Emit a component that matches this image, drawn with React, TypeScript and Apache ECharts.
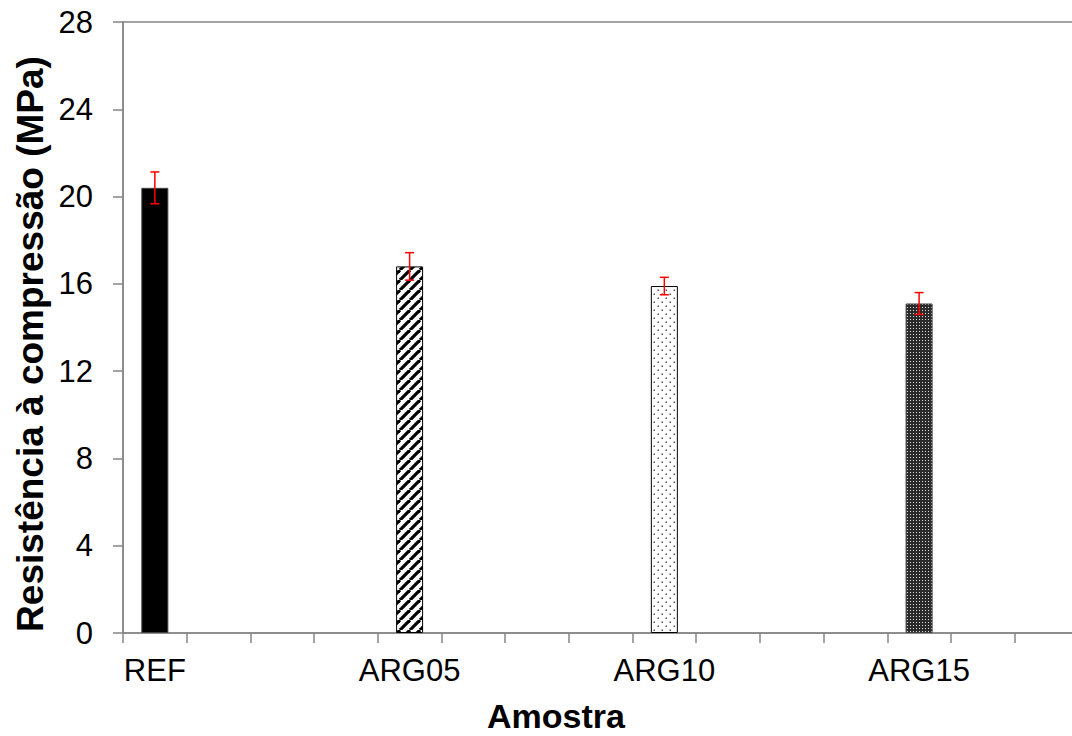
import React, { useEffect, useRef } from "react";
import * as echarts from "echarts";

const samples = ["REF", "ARG05", "ARG10", "ARG15"];
const means = [20.4, 16.8, 15.9, 15.1];
const errors = [0.73, 0.63, 0.4, 0.5];
const gapSlots = 3;
const yTicks = { min: 0, max: 28, interval: 4 };
const xTitle = "Amostra";
const yTitle = "Resistência à compressão (MPa)";

function makeTile(w: number, h: number, draw: (c: CanvasRenderingContext2D) => void) {
  const cv = document.createElement("canvas");
  cv.width = w;
  cv.height = h;
  const ctx = cv.getContext("2d")!;
  draw(ctx);
  return { image: cv, repeat: "repeat", imageWidth: w, imageHeight: h } as any;
}

export default function App() {
  const ref = useRef<HTMLDivElement>(null);
  useEffect(() => {
    if (!ref.current) return;
    const chart = echarts.init(ref.current, null, { renderer: "svg" });

    const stripes = makeTile(10, 10, (c) => {
      c.fillStyle = "#fff";
      c.fillRect(0, 0, 10, 10);
      c.strokeStyle = "#000";
      c.lineWidth = 3.2;
      for (const o of [-10, 0, 10]) {
        c.beginPath();
        c.moveTo(o, 10);
        c.lineTo(o + 10, 0);
        c.stroke();
      }
    });
    const dots = makeTile(8, 8, (c) => {
      c.fillStyle = "#fff";
      c.fillRect(0, 0, 8, 8);
      c.fillStyle = "#555";
      c.fillRect(1.5, 1.5, 1.5, 1.5);
      c.fillRect(5.5, 5.5, 1.5, 1.5);
    });
    const dense = makeTile(3, 3, (c) => {
      c.fillStyle = "#2a2a2a";
      c.fillRect(0, 0, 3, 3);
      c.fillStyle = "#e0e0e0";
      c.fillRect(1, 1, 1, 1);
    });
    const fills: any[] = ["#000", stripes, dots, dense];
    const borders = ["#404040", "#000", "#000", "#404040"];

    const categories: string[] = [];
    const barData: any[] = [];
    const errData: any[] = [];
    samples.forEach((s, i) => {
      categories.push(s);
      barData.push({
        value: means[i],
        itemStyle: { color: fills[i], borderColor: borders[i], borderWidth: 1 },
      });
      errData.push([categories.length - 1, means[i], errors[i]]);
      for (let g = 0; g < gapSlots; g++) {
        categories.push(`_${i}_${g}`);
        barData.push("-");
      }
    });

    const axisGray = "#868686";
    const font = "'Liberation Sans', Arial, sans-serif";

    chart.setOption({
      animation: false,
      grid: {
        left: 123,
        top: 22,
        height: 611,
        width: 1019,
        show: true,
        borderColor: axisGray,
        borderWidth: 1.5,
        containLabel: false,
        outerBoundsMode: "none",
      },
      xAxis: {
        type: "category",
        data: categories,
        boundaryGap: true,
        axisLine: { lineStyle: { color: axisGray, width: 1.5 } },
        axisTick: { show: true, interval: 0, length: 10, lineStyle: { color: axisGray, width: 1.5 } },
        axisLabel: {
          interval: 0,
          margin: 22,
          color: "#000",
          fontSize: 31,
          fontFamily: font,
          formatter: (v: string) => (v.startsWith("_") ? "" : v),
        },
        splitLine: { show: false },
      },
      yAxis: {
        type: "value",
        min: yTicks.min,
        max: yTicks.max,
        interval: yTicks.interval,
        axisLine: { show: true, lineStyle: { color: axisGray, width: 1.5 } },
        axisTick: { show: true, length: 10, lineStyle: { color: axisGray, width: 1.5 } },
        axisLabel: { margin: 30, color: "#000", fontSize: 31, fontFamily: font },
        splitLine: { show: false },
      },
      series: [
        {
          type: "bar",
          data: barData,
          barWidth: 27,
        },
        {
          type: "custom",
          data: errData,
          z: 10,
          renderItem: (params: any, api: any) => {
            const x = api.value(0);
            const m = api.value(1);
            const e = api.value(2);
            const top = api.coord([x, m + e]);
            const bot = api.coord([x, m - e]);
            const hw = 4.5;
            const style = { stroke: "#ff0000", lineWidth: 1.5 };
            return {
              type: "group",
              children: [
                { type: "line", shape: { x1: top[0], y1: top[1], x2: bot[0], y2: bot[1] }, style },
                { type: "line", shape: { x1: top[0] - hw, y1: top[1], x2: top[0] + hw, y2: top[1] }, style },
                { type: "line", shape: { x1: bot[0] - hw, y1: bot[1], x2: bot[0] + hw, y2: bot[1] }, style },
              ],
            };
          },
        },
      ],
      graphic: [
        {
          type: "text",
          x: 556,
          y: 716,
          style: {
            text: xTitle,
            fill: "#000",
            font: `bold 34px ${font}`,
            textAlign: "center",
            textVerticalAlign: "middle",
          },
        },
        {
          type: "text",
          x: 30,
          y: 344,
          rotation: Math.PI / 2,
          style: {
            text: yTitle,
            fill: "#000",
            font: `bold 37px ${font}`,
            textAlign: "center",
            textVerticalAlign: "middle",
          },
        },
      ],
    });
    return () => chart.dispose();
  }, []);
  return (
    <div
      ref={ref}
      style={{ position: "absolute", left: 0, top: 0, width: 1072, height: 736, overflow: "hidden" }}
    />
  );
}
